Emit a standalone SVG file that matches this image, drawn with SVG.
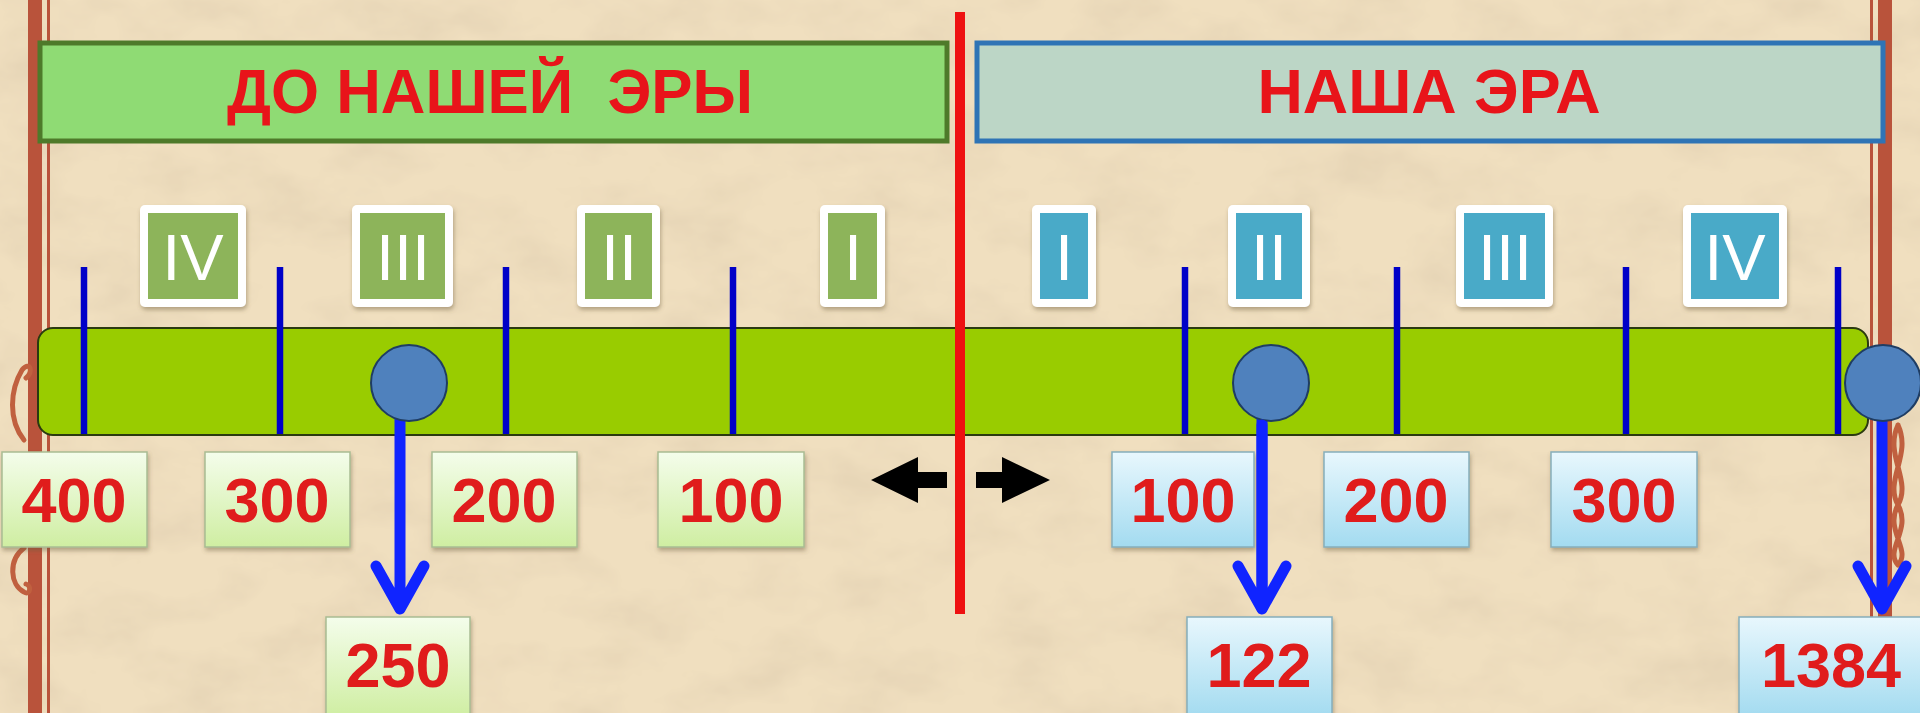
<svg xmlns="http://www.w3.org/2000/svg" width="1920" height="713" viewBox="0 0 1920 713">
<style>
.hdr{font-family:"Liberation Sans",Arial,sans-serif;font-weight:bold;font-size:63px;fill:#e8141a;text-anchor:middle}
.rom{font-family:"Liberation Sans",Arial,sans-serif;font-size:65px;fill:#ffffff;text-anchor:middle}
.yr{font-family:"Liberation Sans",Arial,sans-serif;font-weight:bold;font-size:63px;fill:#e01b1b;text-anchor:middle}
.tick{stroke:#0000c8;stroke-width:6.5}
.rw{fill:#ffffff}
.rg{fill:#8db45a}
.rb{fill:#4aaac8}
.yg{fill:url(#gg);stroke:#a9bc93;stroke-width:1.5}
.yb{fill:url(#gb);stroke:#86aebb;stroke-width:1.5}
.dot{fill:#4f81bd;stroke:#1f3d63;stroke-width:2}
.arr{stroke:#1024ff;stroke-width:11;fill:none;stroke-linecap:round;stroke-linejoin:round}
.orn{fill:none;stroke:#c0603f;stroke-width:5;stroke-linecap:round}
</style>
<defs>
<linearGradient id="gg" x1="0" y1="0" x2="0" y2="1"><stop offset="0" stop-color="#f4fdeb"/><stop offset="1" stop-color="#cfeea2"/></linearGradient>
<linearGradient id="gb" x1="0" y1="0" x2="0" y2="1"><stop offset="0" stop-color="#e8f7fd"/><stop offset="1" stop-color="#a3dbf0"/></linearGradient>
<filter id="paper" x="0" y="0" width="100%" height="100%">
<feTurbulence type="fractalNoise" baseFrequency="0.012 0.02" numOctaves="4" seed="3" result="n"/>
<feColorMatrix in="n" type="matrix" values="0 0 0 0 0.72  0 0 0 0 0.60  0 0 0 0 0.42  0 0 0 1.1 -0.45" result="c"/>
<feComposite in="c" in2="SourceGraphic" operator="over"/>
</filter>
<filter id="sh" x="-10%" y="-10%" width="130%" height="130%">
<feDropShadow dx="1" dy="3" stdDeviation="2" flood-color="#6b5a3a" flood-opacity="0.45"/>
</filter>
</defs>

<g id="background">
<rect x="0" y="0" width="1920" height="713" fill="#f0dfbf" filter="url(#paper)"/>
<rect x="28" y="0" width="14" height="713" fill="#b9533b"/>
<rect x="47" y="0" width="3" height="713" fill="#b9533b"/>
<rect x="1870" y="0" width="3" height="713" fill="#b9533b"/>
<rect x="1878" y="0" width="14" height="713" fill="#b9533b"/>
<path class="orn" d="M22 370 C10 390 8 420 24 440 M22 370 C30 360 34 372 26 378"/>
<path class="orn" d="M24 548 C8 560 10 585 24 592 M24 592 C30 596 32 586 26 584"/>
<path class="orn" d="M1898 425 C1912 455 1884 480 1898 505 C1912 530 1884 550 1898 565 M1898 425 C1884 455 1912 480 1898 505 C1884 530 1912 550 1898 565"/>
</g>

<g id="header-bc">
<rect x="40" y="43" width="907" height="98" fill="#8fdb74" stroke="#4e7a2a" stroke-width="5"/>
<text class="hdr" x="490" y="113" xml:space="preserve" textLength="526" lengthAdjust="spacingAndGlyphs">ДО НАШЕЙ  ЭРЫ</text>
</g>
<g id="header-ad">
<rect x="977" y="43" width="906" height="98" fill="#bcd6c6" stroke="#2f74b5" stroke-width="5"/>
<text class="hdr" x="1429" y="113" textLength="343" lengthAdjust="spacingAndGlyphs">НАША ЭРА</text>
</g>

<g id="roman-bc" filter="url(#sh)">
<g id="bc-IV"><rect class="rw" x="140" y="205" width="106" height="102" rx="5"/><rect class="rg" x="148" y="213" width="90" height="86"/><text class="rom" x="193" y="280">IV</text></g>
<g id="bc-III"><rect class="rw" x="352" y="205" width="101" height="102" rx="5"/><rect class="rg" x="360" y="213" width="85" height="86"/><text class="rom" x="403" y="280">III</text></g>
<g id="bc-II"><rect class="rw" x="577" y="205" width="83" height="102" rx="5"/><rect class="rg" x="585" y="213" width="67" height="86"/><text class="rom" x="619" y="280">II</text></g>
<g id="bc-I"><rect class="rw" x="820" y="205" width="65" height="102" rx="5"/><rect class="rg" x="828" y="213" width="49" height="86"/><text class="rom" x="853" y="280">I</text></g>
</g>
<g id="roman-ad" filter="url(#sh)">
<g id="ad-I"><rect class="rw" x="1032" y="205" width="64" height="102" rx="5"/><rect class="rb" x="1040" y="213" width="48" height="86"/><text class="rom" x="1064" y="280">I</text></g>
<g id="ad-II"><rect class="rw" x="1228" y="205" width="82" height="102" rx="5"/><rect class="rb" x="1236" y="213" width="66" height="86"/><text class="rom" x="1269" y="280">II</text></g>
<g id="ad-III"><rect class="rw" x="1456" y="205" width="97" height="102" rx="5"/><rect class="rb" x="1464" y="213" width="81" height="86"/><text class="rom" x="1505" y="280">III</text></g>
<g id="ad-IV"><rect class="rw" x="1683" y="205" width="104" height="102" rx="5"/><rect class="rb" x="1691" y="213" width="88" height="86"/><text class="rom" x="1735" y="280">IV</text></g>
</g>

<g id="timeline">
<rect x="38" y="328" width="1830" height="107" rx="15" fill="#99cc00" stroke="#2b3a10" stroke-width="2"/>
</g>

<g id="connectors">
<g id="ticks">
<line class="tick" x1="84" y1="267" x2="84" y2="434"/>
<line class="tick" x1="280" y1="267" x2="280" y2="434"/>
<line class="tick" x1="506" y1="267" x2="506" y2="434"/>
<line class="tick" x1="733" y1="267" x2="733" y2="434"/>
<line class="tick" x1="1185" y1="267" x2="1185" y2="434"/>
<line class="tick" x1="1397" y1="267" x2="1397" y2="434"/>
<line class="tick" x1="1626" y1="267" x2="1626" y2="434"/>
<line class="tick" x1="1838" y1="267" x2="1838" y2="434"/>
</g>
<line id="era-divider" x1="960" y1="12" x2="960" y2="614" stroke="#ee1111" stroke-width="10"/>
<polygon id="arrow-left" points="871,480 918,457 918,472 947,472 947,488 918,488 918,503" fill="#000000"/>
<polygon id="arrow-right" points="1050,480 1002,457 1002,472 976,472 976,488 1002,488 1002,503" fill="#000000"/>
<path class="arr" d="M400 400 V608 M376 566 L400 609 L424 566"/>
<path class="arr" d="M1262 400 V608 M1238 566 L1262 609 L1286 566"/>
<path class="arr" d="M1882 400 V608 M1858 566 L1882 609 L1906 566"/>
</g>

<g id="markers">
<circle class="dot" cx="409" cy="383" r="38"/>
<circle class="dot" cx="1271" cy="383" r="38"/>
<circle class="dot" cx="1883" cy="383" r="38"/>
</g>

<g id="years-bc" filter="url(#sh)">
<g id="y-400"><rect class="yg" x="2" y="452" width="145" height="95"/><text class="yr" x="74" y="522">400</text></g>
<g id="y-300"><rect class="yg" x="205" y="452" width="145" height="95"/><text class="yr" x="277" y="522">300</text></g>
<g id="y-200"><rect class="yg" x="432" y="452" width="145" height="95"/><text class="yr" x="504" y="522">200</text></g>
<g id="y-100bc"><rect class="yg" x="658" y="452" width="146" height="95"/><text class="yr" x="731" y="522">100</text></g>
<g id="y-250"><rect class="yg" x="326" y="617" width="144" height="100"/><text class="yr" x="398" y="687">250</text></g>
</g>
<g id="years-ad" filter="url(#sh)">
<g id="y-100ad"><rect class="yb" x="1112" y="452" width="142" height="95"/><text class="yr" x="1183" y="522">100</text></g>
<g id="y-200ad"><rect class="yb" x="1324" y="452" width="145" height="95"/><text class="yr" x="1396" y="522">200</text></g>
<g id="y-300ad"><rect class="yb" x="1551" y="452" width="146" height="95"/><text class="yr" x="1624" y="522">300</text></g>
<g id="y-122"><rect class="yb" x="1187" y="617" width="145" height="100"/><text class="yr" x="1259" y="687">122</text></g>
<g id="y-1384"><rect class="yb" x="1739" y="617" width="183" height="100"/><text class="yr" x="1831" y="687">1384</text></g>
</g>

<g id="arrow-overlay">
<path class="arr" d="M1262 425 V608"/>
</g>
</svg>
